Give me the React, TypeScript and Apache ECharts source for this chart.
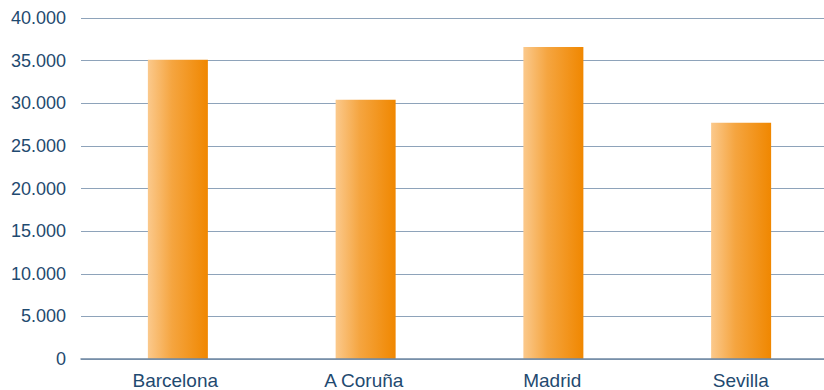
import React, { useEffect, useRef } from "react";
import * as echarts from "echarts";

const categories = ["Barcelona", "A Coruña", "Madrid", "Sevilla"];
const values = [35100, 30400, 36600, 27700];
const yTicks = { min: 0, max: 40000, interval: 5000 };

const fmt = (v: number) => String(v).replace(/\B(?=(\d{3})+(?!\d))/g, ".");

export default function App() {
  const ref = useRef<HTMLDivElement>(null);
  useEffect(() => {
    if (!ref.current) return;
    const chart = echarts.init(ref.current, undefined, { renderer: "svg" });
    const textColor = "#1f4a70";
    const font = "Liberation Sans, Arial, sans-serif";
    chart.setOption({
      animation: false,
      grid: [
        { left: 81, top: 18, right: 0, height: 341, containLabel: false },
        { left: 84, top: 18, right: 0, height: 341, containLabel: false },
      ],
      xAxis: [
        {
          gridIndex: 0,
          type: "category",
          data: categories,
          axisTick: { show: false },
          axisLabel: { color: textColor, fontFamily: font, fontSize: 19, margin: 12 },
          axisLine: { show: true, lineStyle: { color: "#6f88a3", width: 1.5 } },
          z: 5,
        },
        {
          gridIndex: 1,
          type: "category",
          data: categories,
          axisTick: { show: false },
          axisLine: { show: false },
          axisLabel: { show: false },
        },
      ],
      yAxis: [
        {
          gridIndex: 0,
          type: "value",
          min: yTicks.min,
          max: yTicks.max,
          interval: yTicks.interval,
          axisLine: { show: false },
          axisTick: { show: false },
          splitLine: { show: true, lineStyle: { color: "#8ea3ba", width: 1 } },
          axisLabel: {
            color: textColor,
            fontFamily: font,
            fontSize: 18,
            margin: 15,
            formatter: (v: number) => fmt(v),
          },
        },
        {
          gridIndex: 1,
          type: "value",
          min: yTicks.min,
          max: yTicks.max,
          interval: yTicks.interval,
          show: false,
          splitLine: { show: false },
        },
      ],
      series: [
        {
          type: "bar",
          xAxisIndex: 1,
          yAxisIndex: 1,
          data: values,
          barWidth: 60,
          itemStyle: {
            color: new echarts.graphic.LinearGradient(0, 0, 1, 0, [
              { offset: 0, color: "#fbc98c" },
              { offset: 0.4, color: "#f5a540" },
              { offset: 1, color: "#f08700" },
            ]),
          },
        },
      ],
    });
    return () => chart.dispose();
  }, []);
  return (
    <div style={{ width: 824, height: 390, position: "absolute", left: 0, top: 0, overflow: "hidden" }}>
      <div ref={ref} style={{ width: 835, height: 390 }} />
    </div>
  );
}
